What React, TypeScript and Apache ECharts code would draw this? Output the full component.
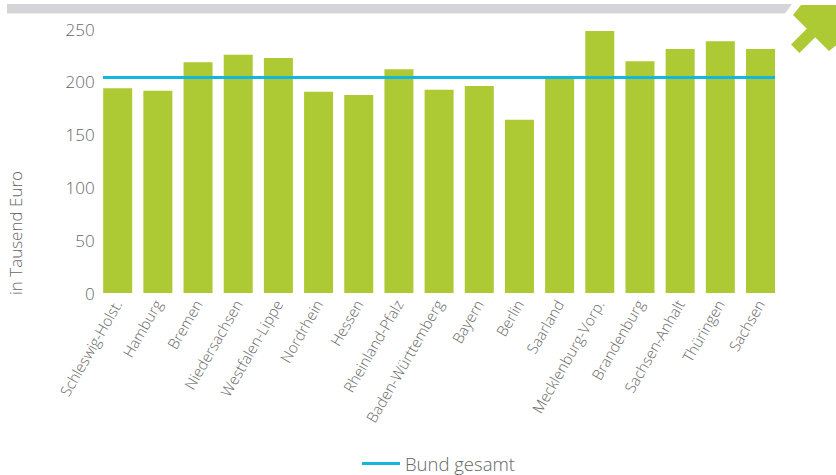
import React, { useEffect, useRef } from "react";
import * as echarts from "echarts";

const categories = [
  "Schleswig-Holst.", "Hamburg", "Bremen", "Niedersachsen", "Westfalen-Lippe",
  "Nordrhein", "Hessen", "Rheinland-Pfalz", "Baden-Württemberg", "Bayern",
  "Berlin", "Saarland", "Mecklenburg-Vorp.", "Brandenburg", "Sachsen-Anhalt",
  "Thüringen", "Sachsen",
];
const values = [194, 191.5, 218.5, 225.5, 222.5, 190.5, 187.5, 212, 192.5, 196, 164, 203.5, 248, 219.5, 231, 238.5, 231];
const bundGesamt = 204;
const bundName = "Bund gesamt";
const yAxisName = "in Tausend Euro";
const yTicks = { min: 0, max: 250, interval: 50 };

const FONT = "'Open Sans', 'Noto Sans', sans-serif";
const GREY = "#666666";
const GREEN = "#adc933";
const CYAN = "#12b6de";

export default function App() {
  const ref = useRef<HTMLDivElement>(null);
  useEffect(() => {
    if (!ref.current) return;
    const chart = echarts.init(ref.current, null, { renderer: "svg" });
    const W = 836;
    chart.setOption({
      animation: false,
      backgroundColor: "#ffffff",
      textStyle: { fontFamily: FONT },
      grid: [
        { left: 97.6, right: W - 780.6, top: 29, bottom: 182 },
        { left: 103, right: W - 775, top: 29, bottom: 182 },
      ],
      legend: {
        data: [bundName],
        top: 449,
        left: 357,
        itemWidth: 38,
        itemHeight: 3,
        itemGap: 6,
        padding: [5, 5, 5, 5],
        textStyle: { color: GREY, fontSize: 18.5, fontFamily: FONT, fontWeight: 300 },
        icon: "rect",
      },
      xAxis: [
        {
          type: "category",
          gridIndex: 0,
          data: categories,
          axisLine: { show: false },
          axisTick: { show: false },
          axisLabel: {
            rotate: 60,
            interval: 0,
            margin: 8,
            color: GREY,
            fontSize: 15,
            fontFamily: FONT,
            fontWeight: 300,
          },
        },
        {
          type: "category",
          gridIndex: 1,
          data: ["", ""],
          boundaryGap: false,
          show: false,
        },
      ],
      yAxis: [
        {
          type: "value",
          gridIndex: 0,
          min: yTicks.min,
          max: yTicks.max,
          interval: yTicks.interval,
          axisLine: { show: false },
          axisTick: { show: false },
          splitLine: { show: false },
          axisLabel: { color: GREY, fontSize: 17, margin: 3, fontFamily: FONT, fontWeight: 300 },
        },
        {
          type: "value",
          gridIndex: 1,
          min: yTicks.min,
          max: yTicks.max,
          interval: yTicks.interval,
          show: false,
        },
      ],
      series: [
        {
          type: "bar",
          xAxisIndex: 0,
          yAxisIndex: 0,
          data: values,
          barWidth: 29,
          itemStyle: { color: GREEN },
        },
        {
          type: "line",
          name: bundName,
          xAxisIndex: 1,
          yAxisIndex: 1,
          data: [bundGesamt, bundGesamt],
          symbol: "none",
          lineStyle: { color: CYAN, width: 3 },
          itemStyle: { color: CYAN },
          z: 5,
        },
      ],
      graphic: [
        {
          type: "polygon",
          shape: { points: [[7, 4], [792, 4], [785, 13.5], [7, 13.5]] },
          style: { fill: "#d5d5d7" },
          silent: true,
        },
        {
          type: "polygon",
          shape: {
            points: [
              [801, 5], [839, 5], [839, 43], [829, 51], [815.2, 37.2],
              [799.4, 53], [791, 44.6], [806.8, 28.8], [793, 15],
            ],
          },
          style: { fill: GREEN },
          silent: true,
        },
        {
          type: "text",
          x: 15,
          y: 233,
          rotation: Math.PI / 2,
          style: {
            text: yAxisName,
            fill: GREY,
            fontSize: 17,
            fontFamily: FONT,
            fontWeight: 300,
            align: "center",
            verticalAlign: "middle",
          },
          silent: true,
        },
      ],
    });
    return () => chart.dispose();
  }, []);
  return (
    <div
      ref={ref}
      style={{ position: "fixed", left: 0, top: 0, width: 836, height: 475, overflow: "hidden" }}
    />
  );
}
